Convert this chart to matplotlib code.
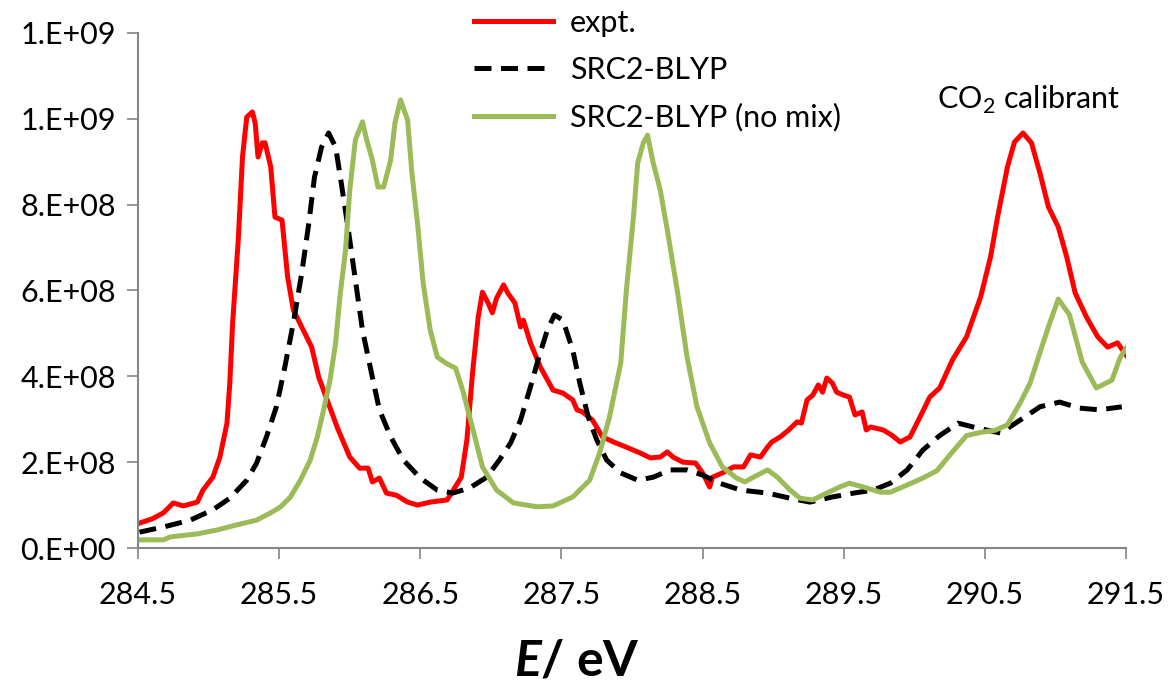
import numpy as np
import matplotlib
matplotlib.use("Agg")
import matplotlib.pyplot as plt

plt.rcParams['font.family'] = ['Lato', 'DejaVu Sans']
plt.rcParams['mathtext.fontset'] = 'custom'
plt.rcParams['mathtext.rm'] = 'Lato'
plt.rcParams['mathtext.bfit'] = 'Lato:italic:bold'

# experimental spectrum (E in eV, intensity in units of 1e8)
expt_E = [284.51, 284.60, 284.68, 284.75, 284.82, 284.92, 284.96, 285.03, 285.08, 285.13,
          285.15, 285.17, 285.21, 285.24, 285.27, 285.31, 285.33, 285.35, 285.38, 285.40,
          285.44, 285.47, 285.52, 285.56, 285.60, 285.67, 285.73, 285.78, 285.84, 285.91,
          286.00, 286.07, 286.13, 286.16, 286.21, 286.26, 286.33, 286.41, 286.48, 286.57,
          286.69, 286.79, 286.83, 286.87, 286.91, 286.94, 286.98, 287.01, 287.04, 287.09,
          287.12, 287.17, 287.21, 287.23, 287.28, 287.35, 287.44, 287.51, 287.58, 287.61,
          287.65, 287.72, 287.79, 287.87, 287.96, 288.06, 288.13, 288.20, 288.25, 288.29,
          288.36, 288.45, 288.50, 288.55, 288.57, 288.64, 288.72, 288.79, 288.84, 288.91,
          288.96, 288.99, 289.05, 289.11, 289.17, 289.20, 289.24, 289.28, 289.32, 289.35,
          289.38, 289.42, 289.45, 289.50, 289.54, 289.58, 289.63, 289.66, 289.69, 289.78,
          289.84, 289.90, 289.97, 290.04, 290.11, 290.18, 290.27, 290.37, 290.47, 290.54,
          290.59, 290.66, 290.71, 290.77, 290.83, 290.89, 290.95, 291.02, 291.08, 291.14,
          291.22, 291.30, 291.37, 291.44, 291.51]
expt_I = [0.58, 0.68, 0.82, 1.05, 0.98, 1.07, 1.35, 1.65, 2.12, 2.91,
          3.84, 5.24, 7.18, 9.11, 10.04, 10.16, 9.90, 9.11, 9.44, 9.44,
          8.88, 7.71, 7.64, 6.31, 5.55, 5.08, 4.68, 3.98, 3.45, 2.82,
          2.12, 1.86, 1.86, 1.54, 1.63, 1.28, 1.23, 1.07, 1.00, 1.07,
          1.12, 1.65, 2.52, 4.08, 5.38, 5.96, 5.71, 5.48, 5.82, 6.13,
          5.94, 5.71, 5.15, 5.31, 4.78, 4.22, 3.68, 3.61, 3.45, 3.22,
          3.17, 2.98, 2.59, 2.47, 2.35, 2.21, 2.10, 2.12, 2.24, 2.12,
          2.00, 1.98, 1.75, 1.42, 1.65, 1.75, 1.89, 1.89, 2.17, 2.12,
          2.35, 2.47, 2.59, 2.75, 2.94, 2.91, 3.45, 3.56, 3.80, 3.63,
          3.96, 3.84, 3.63, 3.56, 3.52, 3.10, 3.17, 2.75, 2.82, 2.75,
          2.63, 2.47, 2.59, 3.05, 3.52, 3.73, 4.38, 4.92, 5.85, 6.78,
          7.71, 8.88, 9.46, 9.67, 9.44, 8.74, 7.95, 7.48, 6.78, 5.94,
          5.38, 4.92, 4.68, 4.78, 4.45]

# SRC2-BLYP
src2_E = [284.51, 284.68, 284.87, 285.03, 285.15, 285.27, 285.34, 285.41, 285.48, 285.54,
          285.60, 285.66, 285.71, 285.75, 285.80, 285.85, 285.90, 285.94, 285.99, 286.04,
          286.09, 286.16, 286.21, 286.29, 286.38, 286.50, 286.62, 286.73, 286.85, 286.97,
          287.06, 287.14, 287.21, 287.28, 287.34, 287.40, 287.45, 287.51, 287.58, 287.63,
          287.69, 287.75, 287.82, 287.92, 288.04, 288.15, 288.27, 288.39, 288.50, 288.62,
          288.77, 288.96, 289.12, 289.26, 289.42, 289.57, 289.71, 289.83, 289.95, 290.06,
          290.18, 290.31, 290.44, 290.61, 290.75, 290.89, 291.03, 291.17, 291.31, 291.47]
src2_I = [0.37, 0.49, 0.65, 0.89, 1.16, 1.58, 1.98, 2.59, 3.29, 4.22,
          5.24, 6.41, 7.57, 8.64, 9.34, 9.67, 9.34, 8.50, 7.41, 6.24,
          5.08, 3.98, 3.22, 2.59, 2.05, 1.63, 1.35, 1.28, 1.40, 1.65,
          2.05, 2.45, 2.98, 3.75, 4.45, 5.08, 5.43, 5.31, 4.61, 3.84,
          3.05, 2.52, 2.05, 1.75, 1.58, 1.65, 1.82, 1.82, 1.70, 1.51,
          1.35, 1.28, 1.16, 1.07, 1.19, 1.28, 1.35, 1.51, 1.82, 2.28,
          2.62, 2.91, 2.80, 2.68, 2.98, 3.29, 3.40, 3.26, 3.22, 3.29]

# SRC2-BLYP (no mix)
nomix_E = [284.51, 284.68, 284.73, 284.92, 285.06, 285.20, 285.34, 285.44, 285.51, 285.58,
           285.65, 285.72, 285.77, 285.81, 285.86, 285.90, 285.93, 285.97, 286.00, 286.04,
           286.09, 286.12, 286.16, 286.20, 286.24, 286.29, 286.32, 286.36, 286.41, 286.44,
           286.48, 286.52, 286.57, 286.62, 286.68, 286.75, 286.80, 286.87, 286.94, 287.04,
           287.16, 287.33, 287.44, 287.58, 287.70, 287.77, 287.84, 287.92, 287.96, 288.01,
           288.04, 288.08, 288.11, 288.15, 288.20, 288.25, 288.32, 288.39, 288.46, 288.55,
           288.64, 288.74, 288.80, 288.86, 288.96, 289.03, 289.12, 289.19, 289.28, 289.38,
           289.47, 289.54, 289.64, 289.76, 289.83, 289.95, 290.06, 290.16, 290.26, 290.37,
           290.48, 290.57, 290.66, 290.75, 290.82, 290.88, 290.95, 291.02, 291.10, 291.19,
           291.29, 291.40, 291.46, 291.53]
nomix_I = [0.19, 0.19, 0.26, 0.33, 0.42, 0.54, 0.65, 0.82, 0.96, 1.19,
           1.58, 2.05, 2.59, 3.15, 3.91, 4.78, 5.85, 6.94, 8.34, 9.51,
           9.93, 9.51, 9.04, 8.41, 8.41, 9.04, 9.90, 10.44, 9.97, 8.74,
           7.57, 6.17, 5.08, 4.45, 4.31, 4.19, 3.68, 2.80, 1.89, 1.35,
           1.05, 0.96, 0.98, 1.19, 1.58, 2.21, 3.05, 4.31, 6.01, 7.71,
           8.97, 9.44, 9.62, 8.97, 8.34, 7.41, 6.01, 4.45, 3.29, 2.45,
           1.89, 1.63, 1.54, 1.65, 1.82, 1.65, 1.35, 1.16, 1.12, 1.28,
           1.42, 1.51, 1.42, 1.30, 1.30, 1.47, 1.63, 1.80, 2.20, 2.62,
           2.70, 2.74, 2.87, 3.38, 3.84, 4.45, 5.15, 5.80, 5.43, 4.33,
           3.73, 3.91, 4.45, 4.80]

x_ticks = [284.5, 285.5, 286.5, 287.5, 288.5, 289.5, 290.5, 291.5]
y_ticks = [0, 2e8, 4e8, 6e8, 8e8, 1.0e9, 1.2e9]
y_labels = ['0.E+00', '2.E+08', '4.E+08', '6.E+08', '8.E+08', '1.E+09', '1.E+09']

fig = plt.figure(figsize=(11.7, 6.84), dpi=100)
ax = fig.add_axes([0.118, 0.1988, 0.8444, 0.753])

ax.plot(expt_E, np.array(expt_I) * 1e8, color='#FF0000', lw=3.6, label='expt.',
        solid_joinstyle='round')
ax.plot(src2_E, np.array(src2_I) * 1e8, color='black', lw=3.6, dashes=(3.4, 1.9),
        label='SRC2-BLYP')
ax.plot(nomix_E, np.array(nomix_I) * 1e8, color='#9BBB59', lw=3.6,
        label='SRC2-BLYP (no mix)', solid_joinstyle='round')

ax.set_xlim(284.5, 291.5)
ax.set_ylim(0, 1.2e9)
ax.set_xticks(x_ticks)
ax.set_xticklabels([f'{t:.1f}' for t in x_ticks])
ax.set_yticks(y_ticks)
ax.set_yticklabels(y_labels)

for s in ['top', 'right']:
    ax.spines[s].set_visible(False)
for s in ['left', 'bottom']:
    ax.spines[s].set_color('#868686')
    ax.spines[s].set_linewidth(1.5)
ax.tick_params(axis='both', direction='out', length=8, width=1.2, color='#868686',
               labelsize=22, labelcolor='black')
ax.tick_params(axis='x', pad=16)
ax.tick_params(axis='y', pad=8)

ax.text(291.46, 1.045e9, 'CO$_2$ calibrant', fontsize=22, ha='right', va='center')

fig.text(0.493, 0.012, r'$\mathbfit{E}$/ eV', fontsize=36, fontweight='bold',
         ha='center', va='baseline')

leg = ax.legend(loc='upper left', bbox_to_anchor=(0.312, 1.10), frameon=False,
                fontsize=22, handlelength=2.6, handletextpad=0.55, labelspacing=0.62)

fig.savefig('out.png', dpi=100)
